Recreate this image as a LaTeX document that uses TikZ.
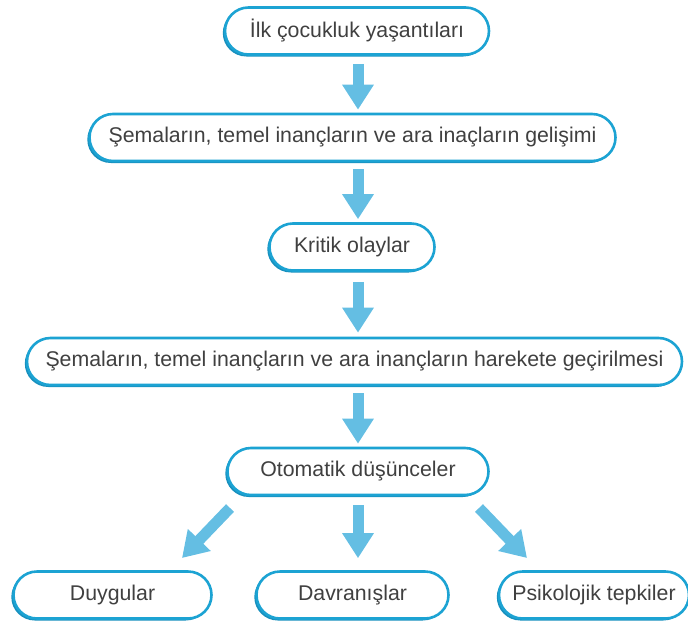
\documentclass[tikz,border=0pt]{standalone}
\usepackage{fontspec}
\setmainfont{Liberation Sans}
\usetikzlibrary{shapes.misc,arrows.meta,shadows}
\definecolor{bblue}{HTML}{1CA3D3}
\definecolor{bdark}{HTML}{1890BE}
\definecolor{ablue}{HTML}{64BEE3}
\definecolor{txtgray}{HTML}{404040}
\tikzset{
 box/.style={rounded rectangle, draw=bblue, line width=2.6pt, fill=white,
   minimum height=47pt, inner sep=0pt, font=\fontsize{21.3}{25}\selectfont, text=txtgray,
   general shadow={fill=bdark, shadow xshift=-2.2pt, shadow yshift=-2pt}},
 barrow/.style={draw=ablue, line width=11pt, -{Triangle[width=30pt,length=25pt]}}
}
\begin{document}
\begin{tikzpicture}[x=1pt,y=-1pt]
\useasboundingbox (0,0) rectangle (688,621);
\node[box, minimum width=264pt] (a) at (357,31) {İlk çocukluk yaşantıları};
\node[box, minimum width=526pt] (b) at (352.5,137.5) {Şemaların, temel inançların ve ara inaçların gelişimi};
\node[box, minimum width=165pt] (c) at (352,247) {Kritik olaylar};
\node[box, minimum width=655pt] (d) at (354.5,361.5) {Şemaların, temel inançların ve ara inançların harekete geçirilmesi};
\node[box, minimum width=261pt] (e) at (358,471.5) {Otomatik düşünceler};
\node[box, minimum width=198pt] (f) at (112.5,595) {Duygular};
\node[box, minimum width=192pt] (g) at (352.5,595) {Davranışlar};
\node[box, minimum width=190pt] (h) at (594,595) {Psikolojik tepkiler};
\draw[barrow, shorten <=8pt, shorten >=3pt] (a.south -| 358,0) -- (b.north -| 358,0);
\draw[barrow, shorten <=7pt, shorten >=3pt] (b.south -| 358,0) -- (c.north -| 358,0);
\draw[barrow, shorten <=10pt, shorten >=4pt] (c.south -| 358,0) -- (d.north -| 358,0);
\draw[barrow, shorten <=7pt, shorten >=3pt] (d.south -| 358,0) -- (e.north -| 358,0);
\draw[barrow, shorten <=9pt, shorten >=12pt] (e.south) -- (g.north -| e.south);
\coordinate (l1) at (230,508);
\coordinate (l2) at (182,558);
\coordinate (r1) at (479,508);
\coordinate (r2) at (527,558);
\draw[barrow] (l1) -- (l2);
\draw[barrow] (r1) -- (r2);
\end{tikzpicture}
\end{document}
